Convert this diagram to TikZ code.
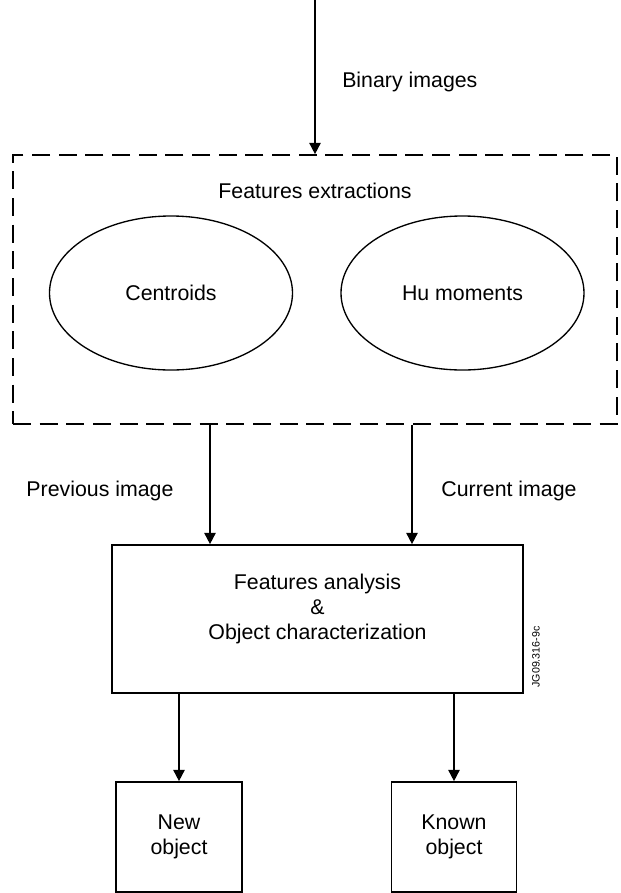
\documentclass[tikz,border=0pt]{standalone}
\usepackage{fontspec}
\setmainfont{Liberation Sans}
\usetikzlibrary{arrows.meta,shapes.geometric}
\tikzset{
  lbl/.style={font=\fontsize{16}{18.75}\selectfont, inner sep=0pt, align=center},
  dbox/.style={draw, line width=1.25pt, dash pattern=on 13.5pt off 6.5pt, inner sep=0pt},
  sbox/.style={draw, line width=1.25pt, inner sep=0pt},
  oval/.style={draw, ellipse, line width=1pt, inner sep=0pt, minimum width=182.25pt, minimum height=115.5pt, font=\fontsize{16}{18.75}\selectfont},
  arr/.style={line width=1.25pt, -{Triangle[width=8.5pt,length=8.5pt]}}
}
\begin{document}
\begin{tikzpicture}[x=0.75pt,y=-0.75pt]
\useasboundingbox (0,0) rectangle (621,893);
% containers
\node[dbox, minimum width=453pt, minimum height=201.75pt] (fe) at (315,289.5) {};
\node[sbox, minimum width=308.25pt, minimum height=111pt] (fa) at (317.5,619) {};
\node[lbl] (fatext) at (317.5,609) {Features analysis\\\&\\Object characterization};
\node[sbox, lbl, minimum width=94.5pt, minimum height=82.5pt] (new) at (179,837) {New\\object};
\node[sbox, lbl, minimum width=93.75pt, minimum height=82.5pt] (known) at (454,837) {Known\\object};
% ellipses
\node[oval] (cen) at (171,293) {Centroids};
\node[oval] (hu) at (462.5,293) {Hu moments};
% labels
\node[lbl] (fetitle) at (315,191) {Features extractions};
\node[lbl, anchor=west] (bin) at (342,82) {Binary images};
\node[lbl] (prev) at (100,491) {Previous image};
\node[lbl] (cur) at (509,491) {Current image};
\node[font=\fontsize{8}{9}\selectfont, inner sep=0pt, rotate=90] (code) at (536,657) {JG09.316-9c};
% connectors
\coordinate (top) at (315,0);
\coordinate (px) at (210,0);
\coordinate (cx) at (412,0);
\draw[arr] (top) -- (fe.north);
\draw[arr] (fe.south -| px) -- (fa.north -| px);
\draw[arr] (fe.south -| cx) -- (fa.north -| cx);
\draw[arr] (fa.south -| new.north) -- (new.north);
\draw[arr] (fa.south -| known.north) -- (known.north);
\end{tikzpicture}
\end{document}
